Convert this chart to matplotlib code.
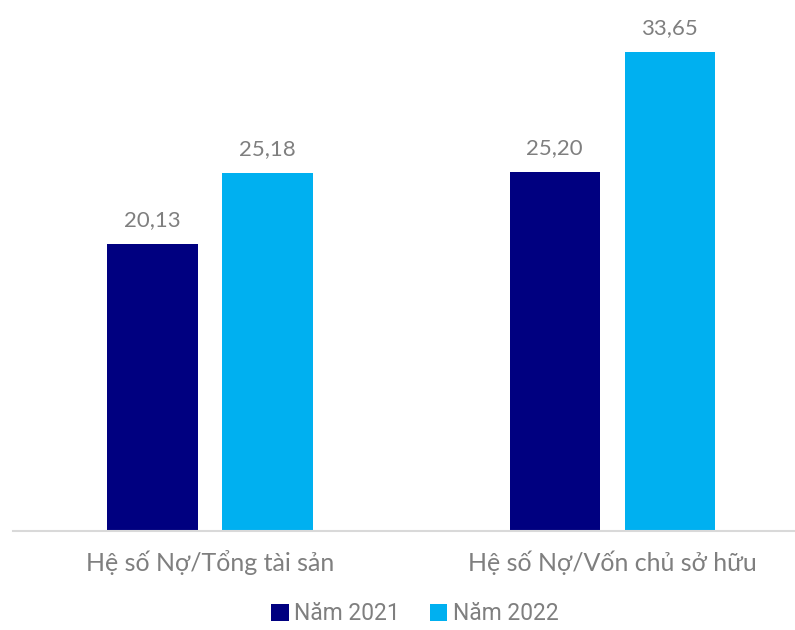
import matplotlib.pyplot as plt
import numpy as np

# Hệ số nợ theo năm
categories = ["Hệ số Nợ/Tổng tài sản", "Hệ số Nợ/Vốn chủ sở hữu"]
years = ["Năm 2021", "Năm 2022"]
values_2021 = [20.13, 25.20]
values_2022 = [25.18, 33.65]
colors = ["#000080", "#00B0F0"]
text_color = "#7F7F7F"

plt.rcParams['font.family'] = ['Lato', 'DejaVu Sans']

fig = plt.figure(figsize=(7.95, 6.3), dpi=100)
ax = fig.add_axes([13 / 795, 99 / 630, 782 / 795, 531 / 630])

x = np.arange(len(categories))
offset = 0.143
width = 0.224

for vals, col, lab, sgn in [(values_2021, colors[0], years[0], -1),
                            (values_2022, colors[1], years[1], 1)]:
    bars = ax.bar(x + sgn * offset, vals, width, color=col, label=lab)
    for b, v in zip(bars, vals):
        ax.annotate(f"{v:.2f}".replace(".", ","),
                    (b.get_x() + b.get_width() / 2, v),
                    xytext=(0, 10), textcoords="offset points",
                    ha="center", va="bottom", fontsize=16, color=text_color)

ax.set_xlim(-0.49, 1.455)
ax.set_ylim(0, 37.3)
ax.set_yticks([])
ax.set_xticks(x)
ax.set_xticklabels(categories, fontsize=18, color=text_color)
ax.tick_params(axis="x", length=0, pad=14)
for s in ["top", "right", "left"]:
    ax.spines[s].set_visible(False)
ax.spines["bottom"].set_color("#D9D9D9")
ax.spines["bottom"].set_linewidth(1.5)

leg = fig.legend(loc="center", bbox_to_anchor=(415 / 795, 16 / 630), ncol=2,
                 frameon=False, handlelength=0.75, handleheight=0.75,
                 handletextpad=0.25, columnspacing=1.3,
                 prop={'family': ['Roboto', 'DejaVu Sans'], 'size': 16.5})
for t in leg.get_texts():
    t.set_color(text_color)

fig.savefig("out.png", dpi=100)
